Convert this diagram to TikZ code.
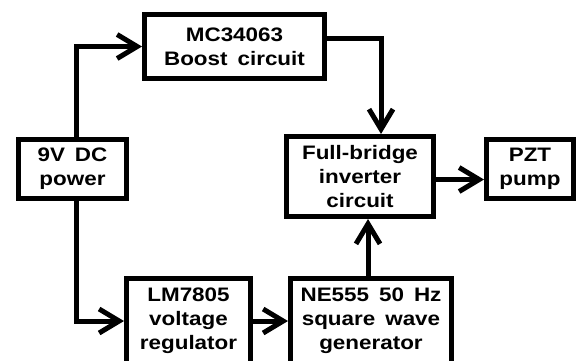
\documentclass[tikz,border=0pt]{standalone}
\usepackage{fontspec}
\setmainfont{Liberation Sans}[FakeStretch=1.15,WordSpace=1.6]
\usetikzlibrary{arrows.meta,calc}
\begin{document}
\begin{tikzpicture}[x=1pt,y=-1pt,
  blk/.style={draw,line width=5pt,inner sep=0pt,align=center,
    font=\fontsize{19.5}{24}\selectfont\bfseries},
  arr/.style={line width=5pt,-{Straight Barb[length=20pt,width=24pt]}}]
\useasboundingbox (0,0) rectangle (577,360);
\clip (0,0) rectangle (577,360);
\node[blk,minimum width=108pt,minimum height=59pt] (nine) at (72.5,169) {9V DC\\power};
\node[blk,minimum width=180pt,minimum height=64pt] (boost) at (234.5,46.5) {MC34063\\Boost circuit};
\node[blk,minimum width=147pt,minimum height=80pt] (fb) at (360,176.5) {Full-bridge\\inverter\\circuit};
\node[blk,minimum width=87pt,minimum height=59pt] (pzt) at (530,169) {PZT\\pump};
\node[blk,minimum width=124pt,minimum height=86pt] (lm) at (188.5,321) {LM7805\\voltage\\regulator};
\node[blk,minimum width=161pt,minimum height=86pt] (ne) at (371,321) {NE555 50 Hz\\square wave\\generator};
\draw[arr] ([xshift=3.5pt]nine.north) |- (boost.west);
\draw[arr] ([xshift=3.5pt]nine.south) |- (lm.west);
\draw[arr] ([yshift=8.5pt]boost.east) -| ([xshift=21pt]fb.north);
\draw[arr] ([yshift=-3pt]fb.east) -- ([yshift=-3pt]fb.east -| pzt.west);
\draw[arr] (lm.east) -- (ne.west);
\draw[arr] ([xshift=-3pt]ne.north) -- ([xshift=-3pt]ne.north |- fb.south);
\end{tikzpicture}
\end{document}
